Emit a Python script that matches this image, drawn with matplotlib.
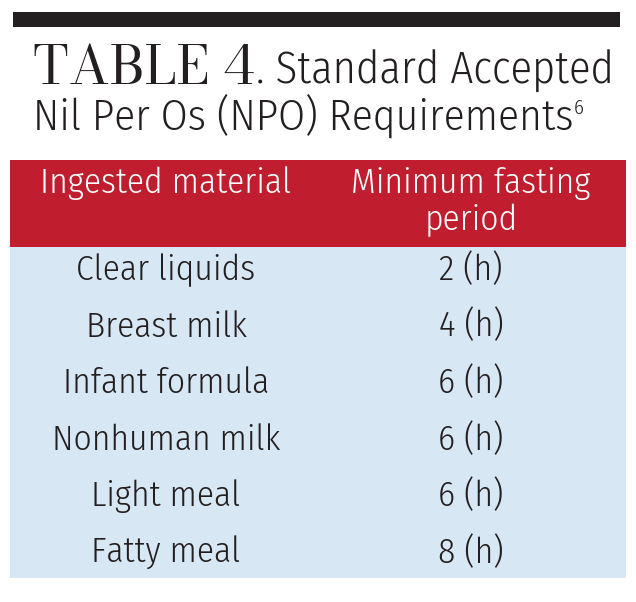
import matplotlib

matplotlib.use("Agg")
import matplotlib.pyplot as plt
from matplotlib.patches import Rectangle

materials = ["Clear liquids", "Breast milk", "Infant formula",
             "Nonhuman milk", "Light meal", "Fatty meal"]
fasting_hours = [2, 4, 6, 6, 6, 8]
col_headers = ["Ingested material", "Minimum fasting\nperiod"]

SANS = ["Fira Sans Condensed", "Open Sans Condensed", "Roboto Condensed", "DejaVu Sans"]
SERIF = ["Bodoni Moda", "GFS Didot", "Liberation Serif", "DejaVu Serif"]
INK = "#231f20"
RED = "#c01e2e"
BLUE = "#d7e7f4"
WT = 300  # Fira "Light"

W, H = 636, 602
fig = plt.figure(figsize=(W / 100, H / 100), dpi=100)
ax = fig.add_axes([0, 0, 1, 1])
ax.set_xlim(0, W)
ax.set_ylim(H, 0)
ax.axis("off")

# top rule
ax.add_patch(Rectangle((13, 12), 607, 15, color=INK, lw=0))

# title
ax.text(33, 84, "TABLE 4", family=SERIF, fontsize=38.3, color=INK, va="baseline")
ax.text(256, 84, ". Standard Accepted", family=SANS, fontsize=32, weight=WT,
        color=INK, va="baseline")
t2 = ax.text(33, 130, "Nil Per Os (NPO) Requirements", family=SANS, fontsize=31.3,
             weight=WT, color=INK, va="baseline")
ax.annotate("6", xy=(1, 1), xycoords=t2, xytext=(0.5, -17), textcoords="offset points",
            family=SANS, fontsize=15, weight=WT, color=INK, va="bottom", ha="left")

# header + body
ax.add_patch(Rectangle((10, 160), 616, 87, color=RED, lw=0))
ax.add_patch(Rectangle((10, 247), 616, 331, color=BLUE, lw=0))

col_x = [166, 471]
for cx, head in zip(col_x, col_headers):
    for j, line in enumerate(head.split("\n")):
        ax.text(cx, 193 + j * 37, line, family=SANS, fontsize=25.5, weight=WT,
                color="white", ha="center", va="baseline")

row_base = 280
row_step = 56.6
for i, (m, h) in enumerate(zip(materials, fasting_hours)):
    y = row_base + i * row_step
    ax.text(col_x[0], y, m, family=SANS, fontsize=25.5, weight=WT, color=INK,
            ha="center", va="baseline")
    ax.text(col_x[1], y, f"{h} (h)", family=SANS, fontsize=25.5, weight=WT,
            color=INK, ha="center", va="baseline")

fig.savefig("out.png", dpi=100, facecolor="white")
